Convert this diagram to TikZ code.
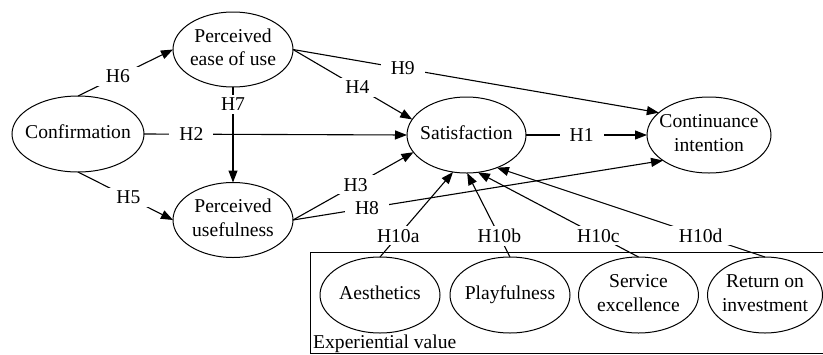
\documentclass[tikz,border=0pt]{standalone}
\usepackage{fontspec}
\setmainfont{Liberation Serif}
\usetikzlibrary{arrows.meta,positioning,shapes.geometric}
\newcommand{\ctext}[1]{\makebox[0pt]{\begin{tabular}{@{}c@{}}#1\end{tabular}}}
\tikzset{
  construct/.style={ellipse, draw, line width=1pt, inner sep=0pt, outer sep=0pt, minimum width=120pt, minimum height=76pt},
  hyplabel/.style={fill=white, inner xsep=10pt, inner ysep=3pt},
  arr/.style={-{Triangle[length=12pt,width=9pt]}, line width=1.1pt},
  plain/.style={line width=1.1pt}
}
\begin{document}
\begin{tikzpicture}[x=1pt, y=-1pt, font=\fontsize{19.6}{23.5}\selectfont]
\useasboundingbox (0,0) rectangle (823,354);
% experiential value group
\draw[line width=0.9pt] (310,252) rectangle (825,353);
\node[anchor=base west, inner sep=0pt] (ev) at (313,348) {Experiential value};
% constructs
\node[construct, minimum width=132pt] (conf) at (78,134) {\ctext{Confirmation}};
\node[construct, minimum height=75pt] (peou) at (233,49.5) {\ctext{Perceived\\ease of use}};
\node[construct, minimum height=75pt, below=95.5pt of peou] (pu) {\ctext{Perceived\\usefulness}};
\node[construct, minimum width=119pt] (sat) at (466.5,135) {\ctext{Satisfaction}};
\node[construct, minimum width=124pt, right=121pt of sat] (cont) {\ctext{Continuance\\intention}};
\node[construct] (aes) at (380,295) {\ctext{Aesthetics}};
\node[construct, right=10pt of aes] (play) {\ctext{Playfulness}};
\node[construct, right=8.5pt of play] (serv) {\ctext{Service\\excellence}};
\node[construct, minimum width=115pt, right=9pt of serv] (ret) {\ctext{Return on\\investment}};
% hypotheses
\draw[arr] (conf.north) -- node[hyplabel, pos=0.42] {H6} (peou.west);
\draw[arr] (conf.south) -- node[hyplabel, pos=0.53] {H5} (pu.west);
\draw[arr] (conf.east) -- node[hyplabel, pos=0.18] {H2} (sat.west);
\draw[arr] (peou.south) -- node[hyplabel, pos=0.18] {H7} (pu.north);
\draw[arr] (peou.east) -- node[hyplabel, pos=0.54] {H4} (sat.164);
\draw[arr] (peou.east) -- node[hyplabel, pos=0.30] {H9} (cont.156);
\draw[arr] (pu.east) -- node[hyplabel, pos=0.52] {H3} (sat.198);
\draw[arr] (pu.east) -- node[hyplabel, pos=0.20] {H8} (cont.209);
\draw[arr] (sat.east) -- node[hyplabel, pos=0.46] {H1} (cont.west);
\draw[arr] (aes.north) -- node[hyplabel, pos=0.25] {H10a} (sat.250);
\draw[arr] (play.north) -- node[hyplabel, pos=0.25] {H10b} (sat.271);
\draw[arr] (serv.north) -- node[hyplabel, pos=0.25] {H10c} (sat.287);
\draw[arr] (ret.north) -- node[hyplabel, pos=0.24] {H10d} (sat.313);
\end{tikzpicture}
\end{document}
